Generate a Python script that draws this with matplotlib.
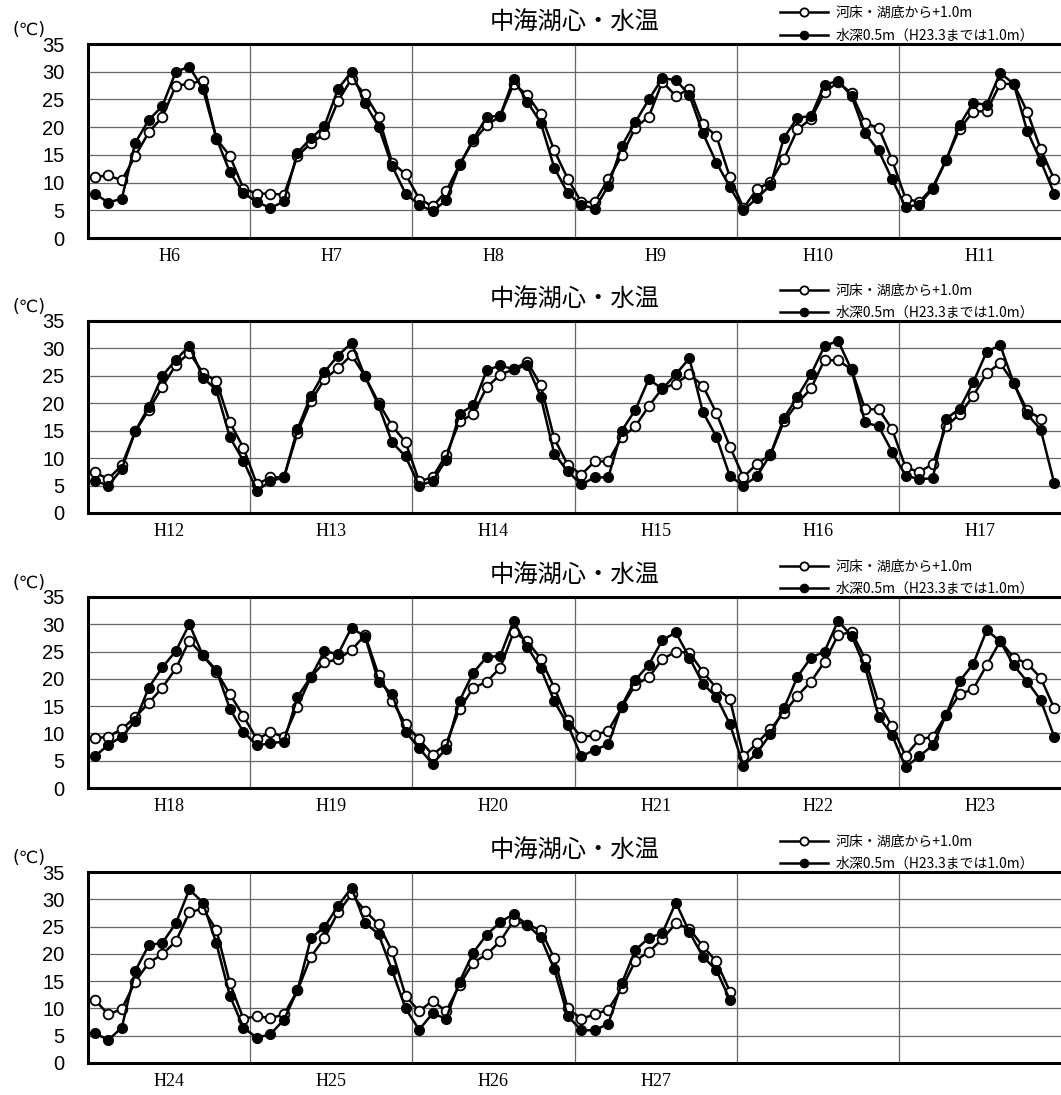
import numpy as np
import matplotlib.pyplot as plt
from matplotlib.ticker import FixedLocator

plt.rcParams['font.family'] = ['Noto Sans CJK JP', 'DejaVu Sans']

# 月別水温（4月〜翌3月）、白丸：河床・湖底から+1.0m、黒丸：水深0.5m
years_1 = ['H6', 'H7', 'H8', 'H9', 'H10', 'H11']
bottom_1 = [11.0, 11.3, 10.4, 14.8, 19.1, 21.8, 27.5, 27.8, 28.4, 17.9, 14.8, 8.9,
            8.0, 8.0, 7.8, 14.8, 17.1, 18.8, 24.7, 28.7, 25.9, 21.9, 13.6, 11.5,
            7.1, 5.7, 8.4, 13.3, 17.5, 20.3, 22.0, 27.8, 25.8, 22.3, 15.8, 10.7,
            6.5, 6.5, 10.6, 14.9, 19.9, 21.9, 28.2, 25.6, 26.9, 20.5, 18.4, 11.0,
            5.4, 8.8, 10.1, 14.3, 19.6, 21.5, 26.3, 28.1, 26.1, 20.7, 19.9, 14.1,
            7.1, 6.5, 9.1, 14.1, 19.7, 22.8, 22.9, 27.8, 27.8, 22.8, 16.0, 10.6]
surface_1 = [8.0, 6.4, 7.1, 17.2, 21.3, 23.8, 30.0, 30.9, 26.9, 18.0, 11.9, 8.1,
             6.5, 5.4, 6.6, 15.4, 18.0, 20.2, 26.9, 30.0, 24.3, 20.1, 13.0, 8.0,
             6.0, 4.8, 6.8, 13.1, 17.8, 21.8, 22.1, 28.7, 24.6, 20.8, 12.7, 8.1,
             6.0, 5.3, 9.4, 16.6, 20.9, 25.0, 28.8, 28.5, 25.8, 18.9, 13.6, 9.2,
             5.0, 7.2, 9.5, 18.1, 21.7, 22.0, 27.6, 28.4, 25.6, 18.9, 15.8, 10.6,
             5.6, 6.0, 8.9, 14.0, 20.4, 24.4, 24.0, 29.8, 27.8, 19.3, 13.9, 8.0]

years_2 = ['H12', 'H13', 'H14', 'H15', 'H16', 'H17']
bottom_2 = [7.4, 6.2, 8.7, 14.9, 18.8, 23.0, 27.0, 29.2, 25.6, 24.0, 16.5, 11.9,
            5.2, 6.5, 6.5, 14.6, 20.4, 24.4, 26.4, 28.8, 24.9, 20.1, 15.9, 12.9,
            5.8, 6.5, 10.6, 16.7, 18.0, 22.9, 25.2, 26.2, 27.6, 23.3, 13.6, 8.8,
            7.0, 9.4, 9.4, 13.8, 15.8, 19.5, 22.7, 23.6, 25.3, 23.2, 18.2, 12.1,
            6.5, 9.0, 10.6, 16.7, 20.0, 22.7, 27.9, 27.8, 26.2, 18.9, 18.9, 15.3,
            8.3, 7.5, 8.9, 15.8, 18.0, 21.3, 25.5, 27.3, 23.7, 18.7, 17.2, np.nan]
surface_2 = [5.9, 5.0, 8.0, 14.9, 19.4, 25.0, 27.9, 30.5, 24.7, 22.4, 13.8, 9.5,
             4.1, 5.8, 6.5, 15.3, 21.4, 25.7, 28.7, 31.0, 24.9, 19.6, 12.9, 10.3,
             5.0, 5.8, 9.7, 18.1, 19.6, 26.0, 26.9, 26.2, 26.9, 21.2, 10.8, 7.6,
             5.2, 6.5, 6.5, 15.0, 18.8, 24.4, 22.6, 25.3, 28.2, 18.4, 13.9, 6.7,
             5.0, 6.7, 10.7, 17.3, 21.2, 25.3, 30.4, 31.4, 26.1, 16.5, 15.8, 11.2,
             6.8, 6.2, 6.3, 17.2, 19.0, 23.8, 29.4, 30.6, 23.7, 18.0, 15.2, 5.4]

years_3 = ['H18', 'H19', 'H20', 'H21', 'H22', 'H23']
bottom_3 = [9.1, 9.4, 10.8, 13.0, 15.6, 18.4, 21.9, 27.0, 24.3, 21.3, 17.2, 13.2,
            8.9, 10.3, 9.3, 14.9, 20.4, 23.0, 23.6, 25.3, 28.0, 20.7, 16.0, 11.7,
            8.9, 6.1, 8.1, 14.5, 18.3, 19.5, 22.0, 28.6, 26.9, 23.7, 18.4, 12.4,
            9.3, 9.7, 10.5, 14.8, 18.9, 20.3, 23.6, 25.0, 24.8, 21.3, 18.3, 16.3,
            5.8, 8.2, 10.8, 13.8, 16.9, 19.5, 23.1, 28.0, 28.6, 23.7, 15.6, 11.3,
            5.9, 8.9, 9.4, 13.4, 17.2, 18.1, 22.5, 26.9, 23.9, 22.8, 20.2, 14.6]
surface_3 = [5.8, 7.9, 9.4, 12.3, 18.4, 22.1, 25.1, 30.0, 24.3, 21.6, 14.5, 10.3,
             7.8, 8.2, 8.5, 16.7, 20.4, 25.1, 24.5, 29.4, 27.7, 19.5, 17.2, 10.3,
             7.3, 4.4, 7.2, 16.0, 21.1, 24.0, 24.2, 30.6, 25.9, 21.9, 15.9, 11.6,
             5.8, 7.0, 8.0, 15.1, 19.8, 22.6, 27.1, 28.5, 23.9, 19.1, 16.7, 11.7,
             4.1, 6.4, 9.9, 14.6, 20.4, 23.9, 25.0, 30.6, 27.9, 22.2, 13.1, 9.7,
             3.8, 5.8, 7.8, 13.4, 19.6, 22.7, 28.9, 26.9, 22.5, 19.5, 16.1, 9.4]

years_4 = ['H24', 'H25', 'H26', 'H27', '', '']
bottom_4 = [11.6, 8.9, 9.9, 14.9, 18.4, 19.9, 22.3, 27.6, 28.3, 24.4, 14.6, 8.1,
            8.6, 8.2, 8.9, 13.3, 19.5, 22.9, 27.6, 30.9, 27.9, 25.4, 20.5, 12.3,
            9.5, 11.4, 9.5, 14.3, 18.4, 19.9, 22.3, 26.1, 25.3, 24.4, 19.2, 10.0,
            8.1, 8.9, 9.8, 13.7, 18.7, 20.4, 22.7, 25.6, 24.6, 21.4, 18.6, 13.1] + [np.nan] * 24
surface_4 = [5.5, 4.2, 6.5, 16.9, 21.6, 22.0, 25.6, 31.8, 29.4, 21.9, 12.3, 6.5,
             4.6, 5.3, 7.9, 13.3, 22.9, 24.9, 28.8, 32.1, 25.7, 23.6, 17.0, 10.0,
             6.1, 9.1, 8.1, 14.9, 20.2, 23.5, 25.8, 27.3, 25.3, 23.0, 17.2, 8.6,
             6.0, 6.0, 7.2, 14.6, 20.7, 22.9, 23.8, 29.4, 24.0, 19.5, 17.0, 11.6] + [np.nan] * 24

panels = [(years_1, bottom_1, surface_1), (years_2, bottom_2, surface_2),
          (years_3, bottom_3, surface_3), (years_4, bottom_4, surface_4)]

W, H = 1061, 1095
tops = [44, 321, 597, 872]
bottoms = [238, 513, 788, 1063]

fig = plt.figure(figsize=(W / 100, H / 100), dpi=100)
x = np.arange(72) + 0.5

for i, (years, bottom, surface) in enumerate(panels):
    ax = fig.add_axes([88 / W, 1 - bottoms[i] / H, (1061 - 88) / W, (bottoms[i] - tops[i]) / H])
    ax.plot(x, bottom, '-o', color='black', lw=1.8, ms=7, mfc='white', mec='black', mew=1.3,
            label='河床・湖底から+1.0m', zorder=3)
    ax.plot(x, surface, '-o', color='black', lw=1.8, ms=7, mfc='black', mec='black',
            label='水深0.5m（H23.3までは1.0m）', zorder=4)

    ax.set_xlim(0, 72)
    ax.set_ylim(0, 35)
    ax.set_yticks(np.arange(0, 36, 5))
    ax.xaxis.set_major_locator(FixedLocator(np.arange(6)*12 + 6))
    ax.set_xticklabels(years, family=['Liberation Serif', 'DejaVu Serif'], fontsize=13)
    ax.xaxis.set_minor_locator(FixedLocator(np.arange(1, 6)*12))
    for lab in ax.get_yticklabels():
        lab.set_family(['Liberation Sans Narrow', 'Liberation Sans', 'DejaVu Sans'])
        lab.set_fontsize(14.5)
    ax.tick_params(axis='both', which='both', length=0)
    ax.tick_params(axis='y', pad=17)
    ax.tick_params(axis='x', pad=7)
    ax.grid(axis='y', which='major', color='#666666', lw=0.9)
    ax.grid(axis='x', which='minor', color='#666666', lw=0.9)
    ax.set_axisbelow(True)
    for s in ['top', 'bottom', 'left']:
        ax.spines[s].set_linewidth(2.2)
    ax.spines['right'].set_visible(False)

    ax.set_title('中海湖心・水温', fontsize=17.5, pad=10)
    ax.text(-0.061, 1.072, '(℃)', transform=ax.transAxes, fontsize=12.5,
            family=['DejaVu Sans'], ha='center', va='center')
    ax.legend(loc='upper left', bbox_to_anchor=(0.711, 1.195), frameon=False,
              fontsize=10, handlelength=3.5, handletextpad=0.55, labelspacing=0.6,
              borderpad=0, borderaxespad=0, markerscale=0.85)

fig.savefig('out.png', dpi=100)
